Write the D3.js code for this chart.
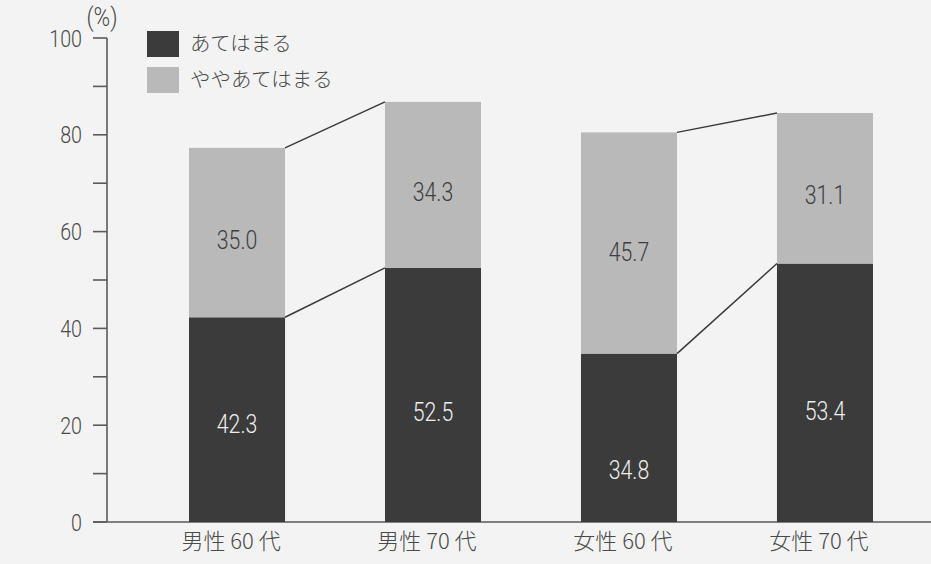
<!DOCTYPE html>
<html>
<head>
<meta charset="utf-8">
<script src="https://cdn.jsdelivr.net/npm/d3@7"></script>
<style>
  html, body { margin: 0; padding: 0; background: #f3f3f3; }
  svg { display: block; }
</style>
</head>
<body>
<svg id="chart" width="931" height="564"></svg>
<script>
// Respondent groups
const categories = ["男性 60 代", "男性 70 代", "女性 60 代", "女性 70 代"];
// Series: share answering "fits" and "somewhat fits" (%)
const seriesNames = ["あてはまる", "ややあてはまる"];
const fitsValues = [42.3, 52.5, 34.8, 53.4];
const somewhatValues = [35.0, 34.3, 45.7, 31.1];
// Axis ticks
const majorTicks = [0, 20, 40, 60, 80, 100];
const minorTicks = [10, 30, 50, 70, 90];
// Pairs of bars joined by connector lines
const pairs = [[0, 1], [2, 3]];

const darkFill = "#3b3b3b";
const lightFill = "#b9b9b9";
const inkColor = "#4a4a4a";
const axisColor = "#5a5a5a";
const numFont = "Roboto, 'Liberation Sans', sans-serif";
const jpFont = "'Noto Sans CJK JP', sans-serif";
const squeeze = 0.82; // condensed look for the numerals

const svg = d3.select("#chart");

const y = d3.scaleLinear().domain([0, 100]).range([522, 38]);
const x = d3.scaleBand().domain(categories).range([140, 922]).paddingInner(0.51).paddingOuter(0.25);

// Where the value label sits inside each dark segment (fraction of its height from the base)
const darkLabelFrac = [0.48, 0.435, 0.31, 0.43];

const rows = categories.map((c, i) => ({
  cat: c,
  fits: fitsValues[i],
  somewhat: somewhatValues[i],
  total: fitsValues[i] + somewhatValues[i]
}));

// Narrow numeral text placed at (px, py)
function numText(sel, px, py, size) {
  return sel
    .attr("transform", (d, i) => `translate(${px(d, i)},${py(d, i)}) scale(${squeeze},1)`)
    .attr("dy", "0.36em")
    .attr("font-family", numFont)
    .attr("font-weight", 300)
    .attr("font-size", size);
}

// Y axis: vertical line plus ticks every 10, labels every 20
const axisX = 107;
const tickLen = 14;
svg.append("line")
  .attr("x1", axisX).attr("x2", axisX)
  .attr("y1", y(100)).attr("y2", y(0))
  .attr("stroke", axisColor).attr("stroke-width", 1.6);

svg.selectAll("line.tick")
  .data(majorTicks.concat(minorTicks))
  .join("line")
  .attr("class", "tick")
  .attr("x1", axisX - tickLen).attr("x2", axisX)
  .attr("y1", d => y(d)).attr("y2", d => y(d))
  .attr("stroke", axisColor).attr("stroke-width", 1.6);

svg.selectAll("text.ylab")
  .data(majorTicks)
  .join("text")
  .attr("class", "ylab")
  .call(numText, () => 82, d => y(d), 24)
  .attr("text-anchor", "end")
  .attr("fill", inkColor)
  .text(d => d);

svg.append("text")
  .attr("transform", `translate(102,17) scale(0.9,1)`)
  .attr("dy", "0.36em")
  .attr("text-anchor", "middle")
  .attr("font-family", numFont)
  .attr("font-weight", 300)
  .attr("font-size", 25)
  .attr("fill", inkColor)
  .text("(%)");

// Baseline
svg.append("line")
  .attr("x1", axisX - tickLen).attr("x2", 931)
  .attr("y1", y(0)).attr("y2", y(0))
  .attr("stroke", axisColor).attr("stroke-width", 1.6);

// Stacked bars
const g = svg.append("g");
g.selectAll("rect.fits")
  .data(rows)
  .join("rect")
  .attr("class", "fits")
  .attr("x", d => x(d.cat))
  .attr("width", x.bandwidth())
  .attr("y", d => y(d.fits))
  .attr("height", d => y(0) - y(d.fits))
  .attr("fill", darkFill);

g.selectAll("rect.somewhat")
  .data(rows)
  .join("rect")
  .attr("class", "somewhat")
  .attr("x", d => x(d.cat))
  .attr("width", x.bandwidth())
  .attr("y", d => y(d.total))
  .attr("height", d => y(d.fits) - y(d.total))
  .attr("fill", lightFill);

// Connector lines between paired bars (top of each segment)
const connectors = [];
pairs.forEach(([a, b]) => {
  connectors.push({ x1: x(rows[a].cat) + x.bandwidth(), y1: y(rows[a].total), x2: x(rows[b].cat), y2: y(rows[b].total) });
  connectors.push({ x1: x(rows[a].cat) + x.bandwidth(), y1: y(rows[a].fits), x2: x(rows[b].cat), y2: y(rows[b].fits) });
});
svg.selectAll("line.conn")
  .data(connectors)
  .join("line")
  .attr("class", "conn")
  .attr("x1", d => d.x1).attr("y1", d => d.y1)
  .attr("x2", d => d.x2).attr("y2", d => d.y2)
  .attr("stroke", "#3a3a3a").attr("stroke-width", 1.5);

// Value labels
const mid = d => x(d.cat) + x.bandwidth() / 2;
svg.selectAll("text.vfits")
  .data(rows)
  .join("text")
  .attr("class", "vfits")
  .call(numText, mid, (d, i) => y(d.fits * darkLabelFrac[i]), 26)
  .attr("text-anchor", "middle")
  .attr("fill", "#eeeeee")
  .text(d => d.fits.toFixed(1));

svg.selectAll("text.vsome")
  .data(rows)
  .join("text")
  .attr("class", "vsome")
  .call(numText, mid, d => y(d.total - d.somewhat * 0.54), 26)
  .attr("text-anchor", "middle")
  .attr("fill", "#3e3e3e")
  .text(d => d.somewhat.toFixed(1));

// Category labels
svg.selectAll("text.cat")
  .data(rows)
  .join("text")
  .attr("class", "cat")
  .attr("x", d => mid(d) - 6)
  .attr("y", 541)
  .attr("dy", "0.36em")
  .attr("text-anchor", "middle")
  .attr("font-family", jpFont)
  .attr("font-weight", 300)
  .attr("font-size", 22)
  .attr("fill", inkColor)
  .text(d => d.cat);

// Legend
const legend = svg.append("g").attr("transform", "translate(147,31)");
const legendFills = [darkFill, lightFill];
const item = legend.selectAll("g")
  .data(seriesNames)
  .join("g")
  .attr("transform", (d, i) => `translate(0,${i * 36})`);
item.append("rect")
  .attr("width", 32).attr("height", 26)
  .attr("fill", (d, i) => legendFills[i]);
item.append("text")
  .attr("x", 43).attr("y", 13)
  .attr("dy", "0.36em")
  .attr("font-family", jpFont)
  .attr("font-weight", 300)
  .attr("font-size", 20.5)
  .attr("fill", inkColor)
  .text(d => d);
</script>
</body>
</html>
